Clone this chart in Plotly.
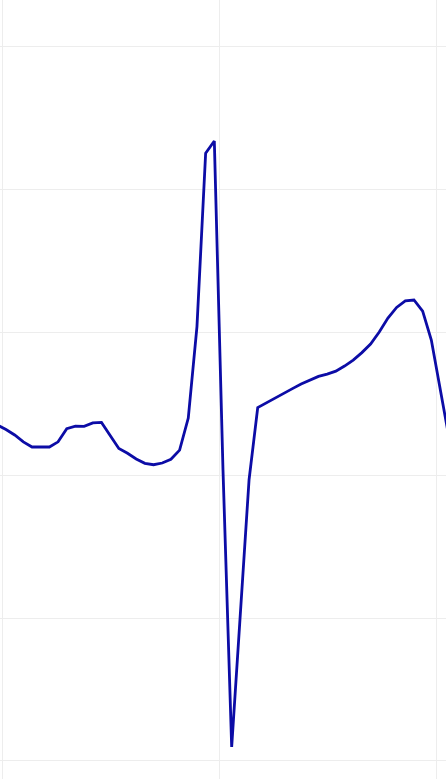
import plotly.graph_objects as go

# sample index and ECG amplitude (mV)
samples = list(range(-1, 52))
amplitude = [
    0.175, 0.159, 0.140, 0.116, 0.098, 0.098, 0.098, 0.116, 0.162, 0.171,
    0.170, 0.182, 0.184, 0.138, 0.093, 0.076, 0.056, 0.041, 0.036, 0.042,
    0.055, 0.087, 0.199, 0.519, 1.125, 1.168, 0.017, -0.951, -0.490, -0.017,
    0.236, 0.253, 0.269, 0.285, 0.302, 0.318, 0.332, 0.345, 0.353, 0.363,
    0.381, 0.402, 0.428, 0.458, 0.500, 0.549, 0.586, 0.609, 0.612, 0.573,
    0.472, 0.307, 0.136,
]

fig = go.Figure(
    go.Scatter(
        x=samples,
        y=amplitude,
        mode="lines",
        line=dict(color="#0c0ca6", width=2.8),
        hoverinfo="skip",
    )
)

fig.update_layout(
    width=446,
    height=779,
    margin=dict(l=0, r=0, t=0, b=0),
    paper_bgcolor="white",
    plot_bgcolor="white",
    showlegend=False,
)
fig.update_xaxes(
    range=[-0.691, 50.69],
    tick0=-0.46,
    dtick=25,
    showgrid=True,
    gridcolor="#ededed",
    gridwidth=1,
    zeroline=False,
    showticklabels=False,
    ticks="",
    showline=False,
)
fig.update_yaxes(
    range=[-1.063, 1.661],
    tick0=0,
    dtick=0.5,
    showgrid=True,
    gridcolor="#ededed",
    gridwidth=1,
    zeroline=False,
    showticklabels=False,
    ticks="",
    showline=False,
)

fig.write_html("out.html", config={"displayModeBar": False})
